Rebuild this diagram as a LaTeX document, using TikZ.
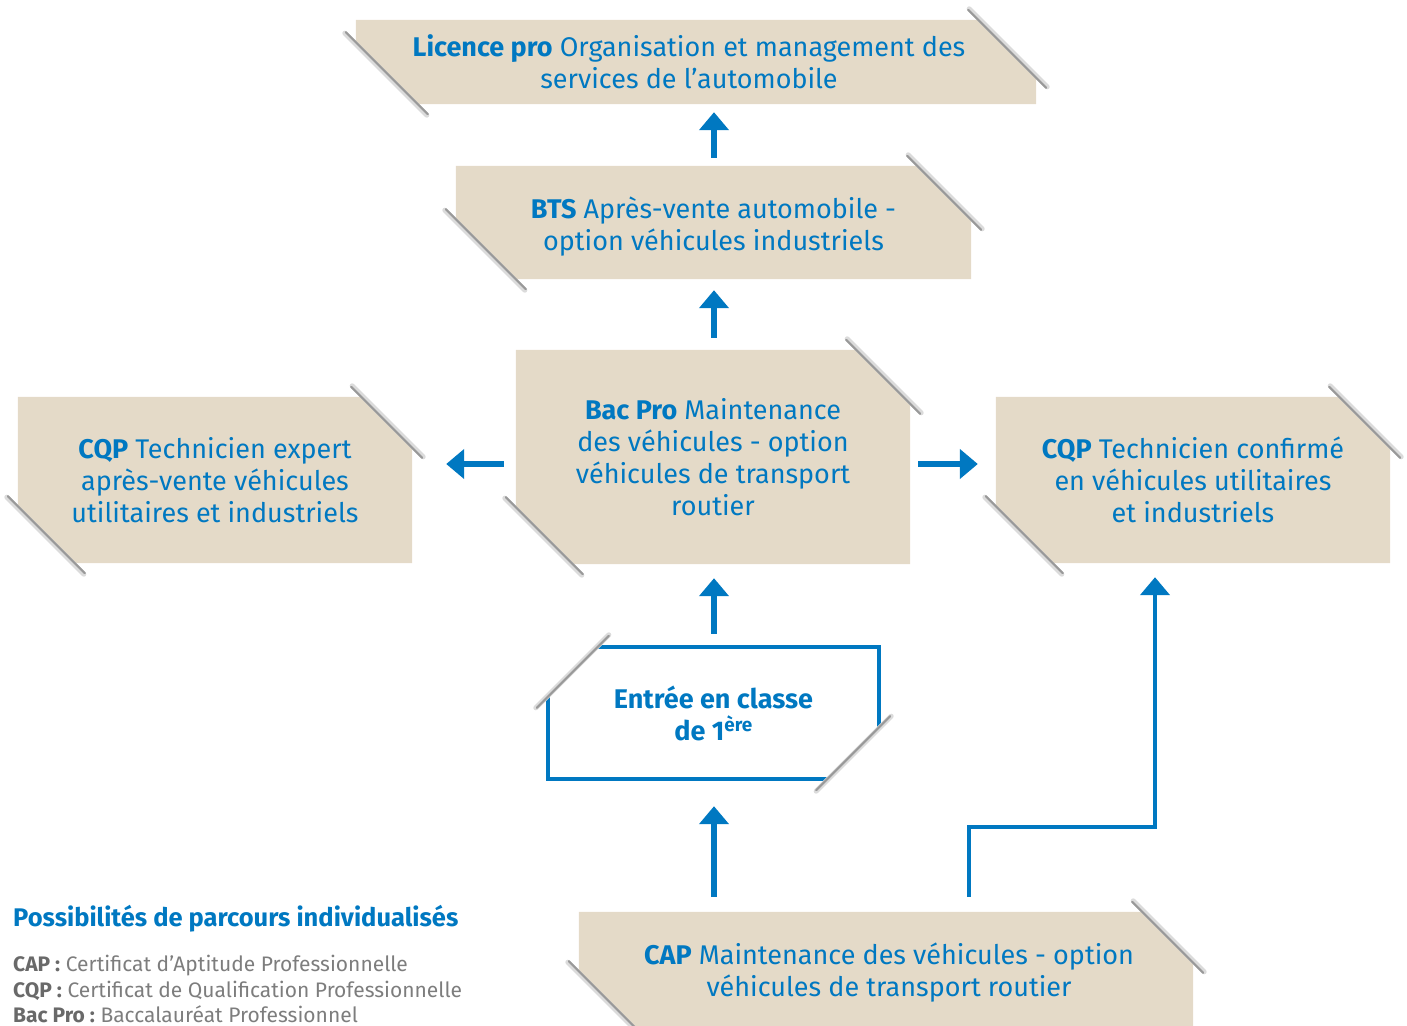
\documentclass[tikz,border=0pt]{standalone}
\usepackage{fontspec}
\setmainfont{Fira Sans}
\usetikzlibrary{arrows.meta,backgrounds,calc}
\definecolor{bblue}{RGB}{0,120,193}
\definecolor{boxbeige}{RGB}{228,218,200}
\definecolor{gtxt}{RGB}{125,125,125}
\definecolor{gbold}{RGB}{105,105,105}
\tikzset{
  box/.style={inner sep=0pt, align=center, text=bblue, font=\fontsize{27}{32}\selectfont},
  arr/.style={draw=bblue, line width=5.5pt, -{Triangle[width=29pt,length=18pt]}},
  shad/.style={line width=2.2pt, draw=black!40, line cap=round},
  shadsoft/.style={line width=5pt, draw=black!14, line cap=round},
}
% #1 node, #2 top-right cut, #3 bottom-left cut
\newcommand\beigebox[3]{%
  \fill[boxbeige] (#1.north west) -- ([xshift={-(#2)*1pt}]#1.north east)
    -- ([yshift={-(#2)*1pt}]#1.north east) -- (#1.south east)
    -- ([xshift={(#3)*1pt}]#1.south west) -- ([yshift={(#3)*1pt}]#1.south west) -- cycle;
  \draw[shadsoft] ([xshift={-(#2+10)*1pt+1pt},yshift=11pt]#1.north east) -- ([xshift=11pt,yshift={-(#2+10)*1pt+1pt}]#1.north east);
  \draw[shad] ([xshift={-(#2+10)*1pt},yshift=10pt]#1.north east) -- ([xshift=10pt,yshift={-(#2+10)*1pt}]#1.north east);
  \draw[shadsoft] ([xshift=-11pt,yshift={(#3+10)*1pt-1pt}]#1.south west) -- ([xshift={(#3+10)*1pt-1pt},yshift=-11pt]#1.south west);
  \draw[shad] ([xshift=-10pt,yshift={(#3+10)*1pt}]#1.south west) -- ([xshift={(#3+10)*1pt},yshift=-10pt]#1.south west);
}
\begin{document}
\begin{tikzpicture}[x=1pt,y=-1pt]
\useasboundingbox (0,0) rectangle (1407,1025);

\node[minimum width=680pt, minimum height=84pt, inner sep=0pt] (lic) at (696,62) {};
\node[box] (lictxt) at (689,62)
  {\textbf{Licence pro} Organisation et management des\\services de l’automobile};
\node[minimum width=515pt, minimum height=113pt, inner sep=0pt] (bts) at (713.5,222.5) {};
\node[box] (btstxt) at (713.5,226.5)
  {\textbf{BTS} Après-vente automobile -\\option véhicules industriels};
\node[box, minimum width=394pt, minimum height=214pt] (bac) at (713,457)
  {\textbf{Bac Pro} Maintenance\\des véhicules - option\\véhicules de transport\\routier};
\node[box, minimum width=394pt, minimum height=166pt] (cqpl) at (215,480)
  {\textbf{CQP} Technicien expert\\après-vente véhicules\\utilitaires et industriels};
\node[box, minimum width=394pt, minimum height=166pt] (cqpr) at (1193,480)
  {\textbf{CQP} Technicien confirmé\\en véhicules utilitaires\\et industriels};
\node[box, font=\bfseries\fontsize{27}{32}\selectfont, minimum width=331pt, minimum height=132pt] (ent) at (713.5,713)
  {Entrée en classe\\de 1\textsuperscript{ère}};
\node[minimum width=614pt, minimum height=116pt, inner sep=0pt] (cap) at (886,970) {};
\node[box] (captxt) at (889,973)
  {\textbf{CAP} Maintenance des véhicules - option\\véhicules de transport routier};

\begin{scope}[on background layer]
  \beigebox{lic}{58}{62}
  \beigebox{bts}{54}{60}
  \beigebox{bac}{54}{57}
  \beigebox{cqpl}{51}{57}
  \beigebox{cqpr}{51}{57}
  \beigebox{cap}{51}{57}
  % Entree box: cut top-left and bottom-right
  \draw[bblue, line width=4pt, line join=miter] ([yshift=-50pt]ent.north west) -- (ent.south west) -- ([xshift=-52pt]ent.south east);
  \draw[bblue, line width=4pt, line join=miter] ([xshift=50pt]ent.north west) -- (ent.north east) -- ([yshift=52pt]ent.south east);
  \draw[shadsoft] ([xshift=-12pt,yshift={-61pt}]ent.north west) -- ([xshift=61pt,yshift=12pt]ent.north west);
  \draw[shad] ([xshift=-11pt,yshift={-61pt}]ent.north west) -- ([xshift=61pt,yshift=11pt]ent.north west);
  \draw[shadsoft] ([xshift=-63pt,yshift=-12pt]ent.south east) -- ([xshift=12pt,yshift=63pt]ent.south east);
  \draw[shad] ([xshift=-63pt,yshift=-11pt]ent.south east) -- ([xshift=11pt,yshift=63pt]ent.south east);
\end{scope}

\coordinate (vx) at (714,0);
\coordinate (hy) at (0,464);
\coordinate (e1) at (969,827);
\coordinate (e2) at (1155,827);
\draw[arr, shorten <=8pt, shorten >=8pt] (bts.north -| vx) -- (lic.south -| vx);
\draw[arr, shorten <=12pt, shorten >=11pt] (bac.north -| vx) -- (bts.south -| vx);
\draw[arr, shorten <=13pt, shorten >=14pt] (ent.north -| vx) -- (bac.south -| vx);
\draw[arr, shorten <=15pt, shorten >=27pt] (cap.north -| vx) -- (ent.south -| vx);
\draw[arr, shorten <=12pt, shorten >=34pt] (bac.west |- hy) -- (cqpl.east |- hy);
\draw[arr, shorten <=8pt, shorten >=18pt] (bac.east |- hy) -- (cqpr.west |- hy);
\draw[arr, line width=4.5pt, line join=miter, shorten <=15pt, shorten >=14pt] (cap.north -| e1) -- (e1) -- (e2) -- (cqpr.south -| e2);

\node[anchor=west, inner sep=0pt, text=bblue, font=\bfseries\fontsize{25.5}{28}\selectfont] (leg) at (13,919)
  {Possibilités de parcours individualisés};
\node[anchor=north west, inner sep=0pt, align=left, text=gtxt, font=\fontsize{21}{25.5}\selectfont] (legtxt) at (13,955)
  {{\color{gbold}\bfseries CAP :}~Certificat d’Aptitude Professionnelle\\
   {\color{gbold}\bfseries CQP :}~Certificat de Qualification Professionnelle\\
   {\color{gbold}\bfseries Bac Pro :}~Baccalauréat Professionnel};
\end{tikzpicture}
\end{document}
